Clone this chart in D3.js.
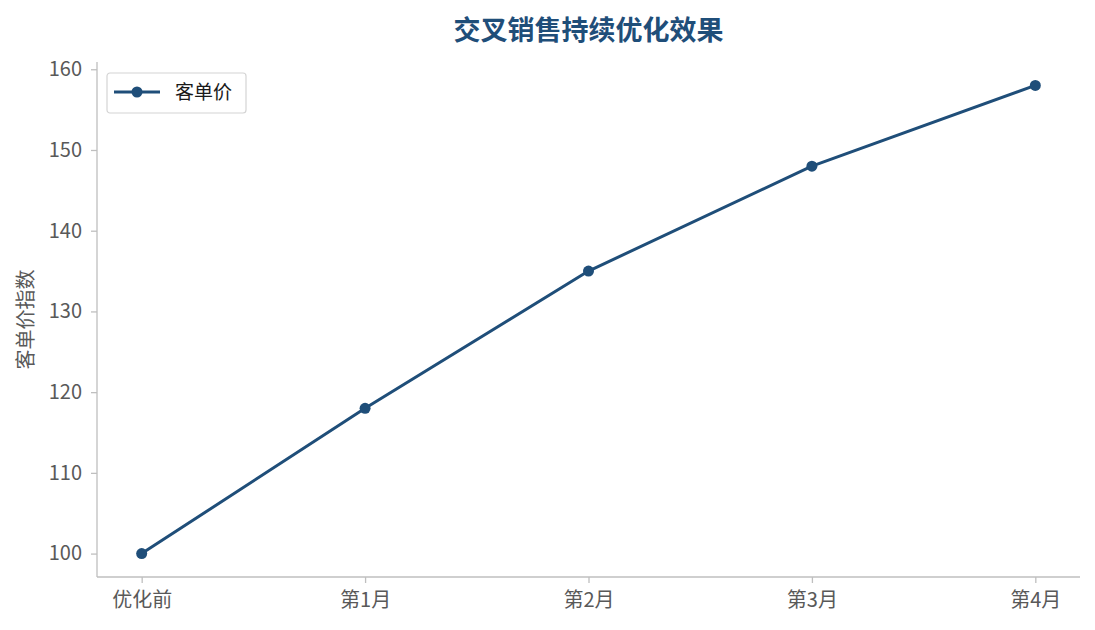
<!DOCTYPE html>
<html>
<head>
    <meta charset="utf-8">
    <title>交叉销售持续优化效果</title>
    <script src="https://cdnjs.cloudflare.com/ajax/libs/d3/7.8.5/d3.min.js"></script>
    <style>
        body {
            margin: 0;
            background-color: #ffffff;
            font-family: "Noto Sans CJK SC", "Noto Sans", sans-serif;
        }

        .axis text {
            fill: #595959;
            font-size: 20px;
            font-family: "Noto Sans CJK SC", "Noto Sans", sans-serif;
        }

        .axis path,
        .axis line {
            stroke: #bfbfbf;
            stroke-width: 1.3px;
        }
    </style>
</head>

<body>
    <div id="chart"></div>

    <script>
        const categories = ['优化前', '第1月', '第2月', '第3月', '第4月'];
        const values = [100, 118, 135, 148, 158];
        const yTicks = [100, 110, 120, 130, 140, 150, 160];
        const seriesName = '客单价';

        const width = 1095, height = 630;
        const plotLeft = 97, plotRight = 1080, plotTop = 62, plotBottom = 577;
        const color = '#1f4e79';

        const svg = d3.select('#chart').append('svg')
            .attr('width', width)
            .attr('height', height);

        // matplotlib-like 5% margins
        const x = d3.scaleLinear()
            .domain([-0.2, categories.length - 1 + 0.2])
            .range([plotLeft, plotRight]);

        const yMin = d3.min(values), yMax = d3.max(values);
        const pad = (yMax - yMin) * 0.05;
        const y = d3.scaleLinear()
            .domain([yMin - pad, yMax + pad])
            .range([plotBottom, plotTop]);

        // axes
        const xAxis = svg.append('g')
            .attr('class', 'axis')
            .attr('transform', `translate(0,${plotBottom})`)
            .call(d3.axisBottom(x)
                .tickValues(d3.range(categories.length))
                .tickFormat(i => categories[i])
                .tickSizeOuter(0)
                .tickSize(6)
                .tickPadding(10));

        const yAxis = svg.append('g')
            .attr('class', 'axis')
            .attr('transform', `translate(${plotLeft},0)`)
            .call(d3.axisLeft(y)
                .tickValues(yTicks)
                .tickSizeOuter(0)
                .tickSize(6)
                .tickPadding(9));

        xAxis.select('.domain').attr('d', `M${plotLeft},0H${plotRight}`);
        yAxis.select('.domain').attr('d', `M0,${plotBottom}V${plotTop}`);

        // title
        svg.append('text')
            .attr('x', (plotLeft + plotRight) / 2)
            .attr('y', 40)
            .attr('text-anchor', 'middle')
            .style('font-size', '27px')
            .style('font-weight', 'bold')
            .style('fill', color)
            .text('交叉销售持续优化效果');

        // y label
        svg.append('text')
            .attr('transform', `translate(33,${(plotTop + plotBottom) / 2}) rotate(-90)`)
            .attr('text-anchor', 'middle')
            .style('font-size', '20px')
            .style('fill', '#595959')
            .text('客单价指数');

        // line
        const line = d3.line()
            .x((d, i) => x(i))
            .y(d => y(d));

        svg.append('path')
            .datum(values)
            .attr('fill', 'none')
            .attr('stroke', color)
            .attr('stroke-width', 3)
            .attr('stroke-linejoin', 'round')
            .attr('d', line);

        svg.selectAll('.dot')
            .data(values)
            .enter().append('circle')
            .attr('class', 'dot')
            .attr('cx', (d, i) => x(i))
            .attr('cy', d => y(d))
            .attr('r', 5.5)
            .attr('fill', color);

        // legend
        const lg = svg.append('g').attr('transform', 'translate(107,73)');
        lg.append('rect')
            .attr('width', 139)
            .attr('height', 40)
            .attr('rx', 3)
            .attr('fill', 'white')
            .attr('stroke', '#d4d4d4')
            .attr('stroke-width', 1.2);
        lg.append('line')
            .attr('x1', 7).attr('x2', 53)
            .attr('y1', 19).attr('y2', 19)
            .attr('stroke', color)
            .attr('stroke-width', 3);
        lg.append('circle')
            .attr('cx', 30).attr('cy', 19).attr('r', 5.5)
            .attr('fill', color);
        lg.append('text')
            .attr('x', 68).attr('y', 26)
            .style('font-size', '19px')
            .style('fill', '#1a1a1a')
            .text(seriesName);
    </script>
</body>
</html>
